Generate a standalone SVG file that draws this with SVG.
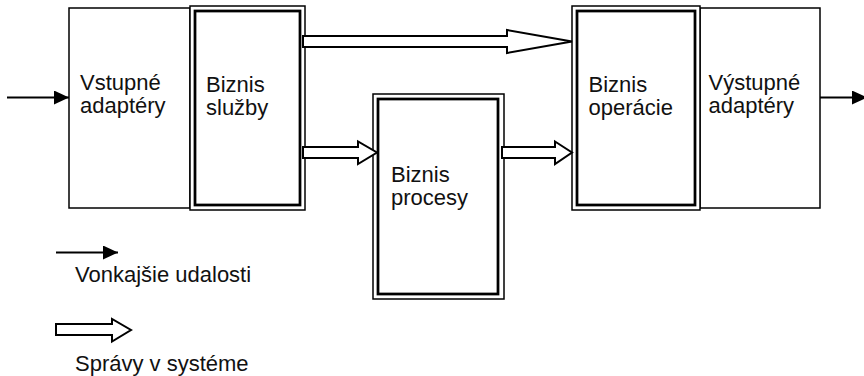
<svg xmlns="http://www.w3.org/2000/svg" width="864" height="376" viewBox="0 0 864 376">
  <style>
    .box { fill: #fff; stroke: #000; stroke-width: 1.5; }
    .dbl-out { fill: #fff; stroke: #000; stroke-width: 1.5; }
    .dbl-in { fill: none; stroke: #000; stroke-width: 2.75; }
    .lbl { font-family: "Liberation Sans", Arial, sans-serif; font-size: 22px; fill: #111; }
    .evt { stroke: #000; stroke-width: 2; fill: none; }
    .msg { fill: #fff; stroke: #000; stroke-width: 2; stroke-linejoin: miter; }
  </style>
  <defs>
    <marker id="head" markerUnits="userSpaceOnUse" markerWidth="16" markerHeight="15" refX="15" refY="7" orient="auto">
      <path d="M0,0 L15,7 L0,14 z" fill="#000"/>
    </marker>
  </defs>

  <rect width="864" height="376" fill="#fff"/>

  <g id="vstupne-adaptery">
    <rect class="box" x="69" y="8" width="121" height="200"/>
    <text class="lbl" x="80" y="90">Vstupné</text>
    <text class="lbl" x="80" y="113">adaptéry</text>
  </g>

  <g id="biznis-sluzby">
    <rect class="dbl-out" x="190" y="6" width="115" height="204"/>
    <rect class="dbl-in" x="195" y="11" width="105" height="194"/>
    <text class="lbl" x="206" y="92">Biznis</text>
    <text class="lbl" x="206" y="115">služby</text>
  </g>

  <g id="biznis-procesy">
    <rect class="dbl-out" x="373" y="94" width="131" height="205"/>
    <rect class="dbl-in" x="378" y="99" width="120" height="195"/>
    <text class="lbl" x="391" y="182">Biznis</text>
    <text class="lbl" x="391" y="205">procesy</text>
  </g>

  <g id="vystupne-adaptery">
    <rect class="box" x="700" y="8" width="120" height="200"/>
    <text class="lbl" x="708.5" y="90">Výstupné</text>
    <text class="lbl" x="708.5" y="113">adaptéry</text>
  </g>

  <g id="biznis-operacie">
    <rect class="dbl-out" x="572" y="6" width="128" height="204"/>
    <rect class="dbl-in" x="577" y="11" width="118" height="194"/>
    <text class="lbl" x="588.5" y="92">Biznis</text>
    <text class="lbl" x="588.5" y="115">operácie</text>
  </g>

  <g id="connectors">
    <!-- external events -->
    <line class="evt" x1="7" y1="97.5" x2="69" y2="97.5" marker-end="url(#head)"/>
    <line class="evt" x1="820" y1="97.5" x2="867" y2="97.5" marker-end="url(#head)"/>
    <!-- messages inside the system -->
    <polygon class="msg" points="303,36 507,36 507,30 572,41.5 507,53 507,47 303,47"/>
    <polygon class="msg" points="303,147 358,147 358,141.5 377,152.5 358,164 358,158 303,158"/>
    <polygon class="msg" points="502,147 555,147 555,141.5 572,152.5 555,164 555,158 502,158"/>
  </g>

  <g id="legend">
    <line class="evt" x1="56" y1="252.5" x2="118" y2="252.5" marker-end="url(#head)"/>
    <text class="lbl" x="75" y="281.5">Vonkajšie udalosti</text>
    <polygon class="msg" points="56,324 112,324 112,319 131,330 112,341.5 112,335 56,335"/>
    <text class="lbl" x="75" y="371">Správy v systéme</text>
  </g>
</svg>
